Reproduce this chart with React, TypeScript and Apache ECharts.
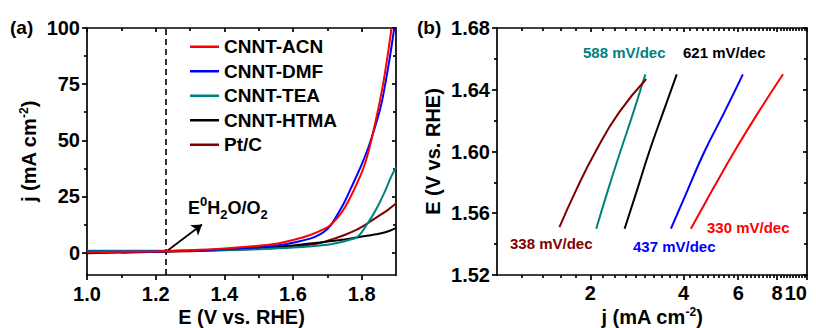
import React, { useEffect, useRef } from "react";
import * as echarts from "echarts";

const FONT = "'Liberation Sans', Arial, Helvetica, sans-serif";

// ---- Panel (a): LSV curves [E (V vs RHE), j (mA cm-2)] ----
const lsvACN: [number, number][] = [
  [1.0, 0.1], [1.1, 0.3], [1.2, 0.5], [1.3, 1.0], [1.4, 1.8], [1.5, 3.0], [1.55, 3.9],
  [1.6, 5.6], [1.65, 7.8], [1.7, 11.2], [1.713, 12.8], [1.73, 15.5], [1.75, 19.8],
  [1.77, 25.5], [1.79, 32], [1.806, 38], [1.82, 45], [1.84, 58], [1.86, 73], [1.875, 87], [1.887, 100],
];
const lsvDMF: [number, number][] = [
  [1.0, 0.3], [1.1, 0.3], [1.2, 0.5], [1.3, 0.9], [1.4, 1.5], [1.5, 2.4], [1.55, 3.1],
  [1.6, 4.4], [1.65, 6.2], [1.68, 8.2], [1.7, 10.5], [1.713, 12.8], [1.73, 17], [1.75, 22.5],
  [1.77, 29], [1.798, 38.5], [1.82, 47], [1.845, 59], [1.86, 68], [1.88, 85], [1.895, 100],
];
const lsvTEA: [number, number][] = [
  [1.0, 0.8], [1.1, 0.8], [1.2, 0.8], [1.3, 0.9], [1.4, 1.1], [1.5, 1.5], [1.6, 2.2],
  [1.7, 3.5], [1.738, 4.6], [1.76, 5.5], [1.786, 6.8], [1.8, 9.0], [1.815, 12.5], [1.83, 16],
  [1.85, 21.5], [1.87, 28], [1.885, 33.5], [1.9, 38],
];
const lsvHTMA: [number, number][] = [
  [1.0, -0.3], [1.1, 0.0], [1.2, 0.4], [1.3, 0.8], [1.4, 1.3], [1.5, 2.0], [1.6, 3.1],
  [1.69, 4.7], [1.75, 5.8], [1.8, 7.1], [1.85, 8.4], [1.88, 9.6], [1.9, 11.0],
];
const lsvPtC: [number, number][] = [
  [1.1, 0.0], [1.2, 0.3], [1.3, 0.6], [1.4, 1.0], [1.5, 1.6], [1.6, 2.6], [1.65, 3.5],
  [1.69, 4.7], [1.72, 6.2], [1.75, 7.8], [1.786, 10.2], [1.815, 12.8], [1.85, 16.3],
  [1.875, 18.8], [1.9, 21.8],
];
const E_REV = 1.23;
const arrowFrom: [number, number] = [1.232, 0.6];
const arrowTo: [number, number] = [1.335, 12.5];

// ---- Panel (b): Tafel plots, E (V) vs j (mA cm-2) ----
const tafelE = [1.55, 1.575, 1.6, 1.625, 1.65];
const tafelACN = [4.22, 4.95, 5.83, 6.95, 8.37];
const tafelDMF = [3.64, 4.12, 4.67, 5.4, 6.21];
const tafelTEA = [2.09, 2.28, 2.5, 2.75, 3.01];
const tafelHTMA = [2.58, 2.83, 3.1, 3.43, 3.8];
const tafelPtE = [1.551, 1.575, 1.6, 1.625, 1.647];
const tafelPtC = [1.59, 1.8, 2.08, 2.47, 3.03];

const names = ["CNNT-ACN", "CNNT-DMF", "CNNT-TEA", "CNNT-HTMA", "Pt/C"];
const colors = ["#ff0000", "#0000ff", "#008080", "#000000", "#800000"];
const slopes = ["330 mV/dec", "437 mV/dec", "588 mV/dec", "621 mV/dec", "338 mV/dec"];

// ticks
const aXLabels = [1.0, 1.2, 1.4, 1.6, 1.8];
const aXMinor = [1.1, 1.3, 1.5, 1.7];
const aYLabels = [0, 25, 50, 75, 100];
const aYMinor = [12.5, 37.5, 62.5, 87.5];
const bXLabels = [2, 4, 6, 8, 10];
const bXMinor = [1.2, 1.4, 1.6, 1.8, 2.2, 2.4, 2.6, 2.8, 3, 3.2, 3.4, 3.6, 3.8, 4.2, 4.4, 4.6, 4.8, 5, 5.2, 5.4, 5.6, 5.8, 6.2, 6.4, 6.6, 6.8, 7, 7.2, 7.4, 7.6, 7.8, 8.2, 8.4, 8.6, 8.8, 9, 9.2, 9.4, 9.6, 9.8];
const bYLabels = [1.52, 1.56, 1.6, 1.64, 1.68];
const bYMinor = [1.54, 1.58, 1.62, 1.66];

const AX = { color: "#000", width: 1.7 };
const labelStyle = { fontSize: 20, fontWeight: "bold", color: "#000", fontFamily: FONT };
const richName = {
  n: { fontSize: 20, fontWeight: "bold", color: "#000", fontFamily: FONT, lineHeight: 22 },
  s: { fontSize: 12, fontWeight: "bold", color: "#000", fontFamily: FONT, verticalAlign: "top", lineHeight: 22, padding: [0, 0, 10, 0] },
};

function axis(o: any) {
  const a: any = {
    type: o.type || "value",
    gridIndex: o.grid,
    position: o.position,
    min: o.min,
    max: o.max,
    splitLine: { show: false },
    axisLine: { show: !!o.line, onZero: false, lineStyle: AX },
    axisTick: { show: true, inside: !!o.inside, length: o.len, customValues: o.ticks, lineStyle: AX },
    axisLabel: o.labels
      ? { show: true, customValues: o.labels, formatter: o.fmt, margin: o.margin, alignMaxLabel: o.alignMax, ...labelStyle }
      : { show: false },
  };
  if (o.type === "log") a.logBase = 10;
  if (o.name) {
    a.name = o.name;
    a.nameLocation = "middle";
    a.nameGap = o.nameGap;
    a.nameRotate = o.nameRotate;
    a.nameMoveOverlap = false;
    a.nameTextStyle = { rich: richName };
  }
  return a;
}

export default function App() {
  const ref = useRef<HTMLDivElement>(null);
  useEffect(() => {
    document.body.style.margin = "0";
    const chart = echarts.init(ref.current!, null, { renderer: "svg" });

    const xAxis = [
      axis({ grid: 0, position: "bottom", min: 1.0, max: 1.9, line: true, ticks: aXLabels, len: 5, labels: aXLabels, fmt: (v: number) => v.toFixed(1), margin: 9, name: "{n|E (V vs. RHE)}", nameGap: 31 }),
      axis({ grid: 0, position: "bottom", min: 1.0, max: 1.9, ticks: aXMinor, len: 3 }),
      axis({ grid: 0, position: "top", min: 1.0, max: 1.9, line: true, ticks: aXLabels, len: 4, inside: true }),
      axis({ grid: 0, position: "top", min: 1.0, max: 1.9, ticks: aXMinor, len: 3, inside: true }),
      axis({ grid: 1, type: "log", position: "bottom", min: 1, max: 10, line: true, ticks: bXLabels, len: 5, labels: bXLabels, fmt: (v: number) => String(Math.round(v)), margin: 8, alignMax: "right", name: "{n|j (mA cm}{s|-2}{n|)}", nameGap: 31 }),
      axis({ grid: 1, type: "log", position: "bottom", min: 1, max: 10, ticks: bXMinor, len: 3 }),
      axis({ grid: 1, type: "log", position: "top", min: 1, max: 10, line: true, ticks: bXLabels, len: 4, inside: true }),
      axis({ grid: 1, type: "log", position: "top", min: 1, max: 10, ticks: bXMinor, len: 3, inside: true }),
    ];
    const yAxis = [
      axis({ grid: 0, position: "left", min: -10, max: 100, line: true, ticks: aYLabels, len: 5, labels: aYLabels, fmt: (v: number) => String(v), margin: 7, name: "{n|j (mA cm}{s|-2}{n|)}", nameGap: 47, nameRotate: 90 }),
      axis({ grid: 0, position: "left", min: -10, max: 100, ticks: aYMinor, len: 3 }),
      axis({ grid: 0, position: "right", min: -10, max: 100, line: true, ticks: aYLabels, len: 4, inside: true }),
      axis({ grid: 0, position: "right", min: -10, max: 100, ticks: aYMinor, len: 3, inside: true }),
      axis({ grid: 1, position: "left", min: 1.52, max: 1.68, line: true, ticks: bYLabels, len: 5, labels: bYLabels, fmt: (v: number) => v.toFixed(2), margin: 7, name: "{n|E (V vs. RHE)}", nameGap: 53, nameRotate: 90 }),
      axis({ grid: 1, position: "left", min: 1.52, max: 1.68, ticks: bYMinor, len: 3 }),
      axis({ grid: 1, position: "right", min: 1.52, max: 1.68, line: true, ticks: bYLabels, len: 4, inside: true }),
      axis({ grid: 1, position: "right", min: 1.52, max: 1.68, ticks: bYMinor, len: 3, inside: true }),
    ];

    const lsv = [lsvACN, lsvDMF, lsvTEA, lsvHTMA, lsvPtC];
    const tafelJ = [tafelACN, tafelDMF, tafelTEA, tafelHTMA, tafelPtC];
    const tafelEs = [tafelE, tafelE, tafelE, tafelE, tafelPtE];

    const series: any[] = [];
    lsv.forEach((d, i) => {
      series.push({
        name: names[i], type: "line", xAxisIndex: 0, yAxisIndex: 0, data: d,
        symbol: "none", smooth: 0.3, lineStyle: { width: 2, color: colors[i] }, itemStyle: { color: colors[i] },
        z: 3 + (5 - i),
      });
    });
    series[0].markLine = {
      silent: true, symbol: "none", animation: false, label: { show: false },
      lineStyle: { type: [6, 4], color: "#000", width: 1.6 },
      data: [{ xAxis: E_REV }],
    };
    series.push({
      type: "line", xAxisIndex: 0, yAxisIndex: 0, data: [], symbol: "none", silent: true,
      markLine: {
        silent: true, symbol: ["none", "arrow"], symbolSize: 10, animation: false, label: { show: false },
        lineStyle: { type: "solid", color: "#000", width: 1.7 },
        data: [[{ coord: arrowFrom }, { coord: arrowTo }]],
      },
    });
    tafelJ.forEach((js, i) => {
      series.push({
        name: names[i] + " Tafel", type: "line", xAxisIndex: 4, yAxisIndex: 4,
        data: js.map((j, k) => [j, tafelEs[i][k]]),
        symbol: "none", smooth: true, lineStyle: { width: 2, color: colors[i] }, itemStyle: { color: colors[i] },
      });
    });

    const ann = (text: string, color: string, x: number, y: number) => ({
      type: "text", x, y,
      style: { text, fill: color, font: `bold 15px ${FONT}`, verticalAlign: "middle", align: "left" },
    });

    chart.setOption({
      animation: false,
      backgroundColor: "#fff",
      grid: [
        { left: 87, right: 420, top: 28, bottom: 53, outerBoundsMode: "none", containLabel: false },
        { left: 497, right: 9, top: 28, bottom: 53, outerBoundsMode: "none", containLabel: false },
      ],
      legend: {
        data: names, orient: "vertical", left: 190, top: 37, padding: 0,
        icon: "rect", itemWidth: 29, itemHeight: 2.5, itemGap: 5, selectedMode: false,
        textStyle: { fontSize: 19, fontWeight: "bold", color: "#000", fontFamily: FONT, lineHeight: 19.5 },
      },
      xAxis, yAxis, series,
      graphic: [
        { type: "text", x: 10, y: 27, style: { text: "(a)", fill: "#000", font: `bold 19px ${FONT}`, verticalAlign: "middle" } },
        { type: "text", x: 417, y: 27, style: { text: "(b)", fill: "#000", font: `bold 19px ${FONT}`, verticalAlign: "middle" } },
        {
          type: "text", x: 188, y: 208,
          style: {
            text: "{m|E}{u|0}{m|H}{d|2}{m|O/O}{d|2}", verticalAlign: "middle",
            rich: {
              m: { fontSize: 18, fontWeight: "bold", fill: "#000", fontFamily: FONT, lineHeight: 26 },
              u: { fontSize: 13, fontWeight: "bold", fill: "#000", fontFamily: FONT, lineHeight: 26, verticalAlign: "top", padding: [0, 0, 12, 0] },
              d: { fontSize: 13, fontWeight: "bold", fill: "#000", fontFamily: FONT, lineHeight: 26, verticalAlign: "bottom", padding: [10, 0, 0, 0] },
            },
          },
        },
        ann(slopes[2], colors[2], 583, 52),
        ann(slopes[3], colors[3], 683, 52),
        ann(slopes[4], colors[4], 510, 243),
        ann(slopes[1], colors[1], 633, 246),
        ann(slopes[0], colors[0], 707, 227),
      ],
    });
    return () => chart.dispose();
  }, []);
  return <div ref={ref} style={{ width: 816, height: 328 }} />;
}
